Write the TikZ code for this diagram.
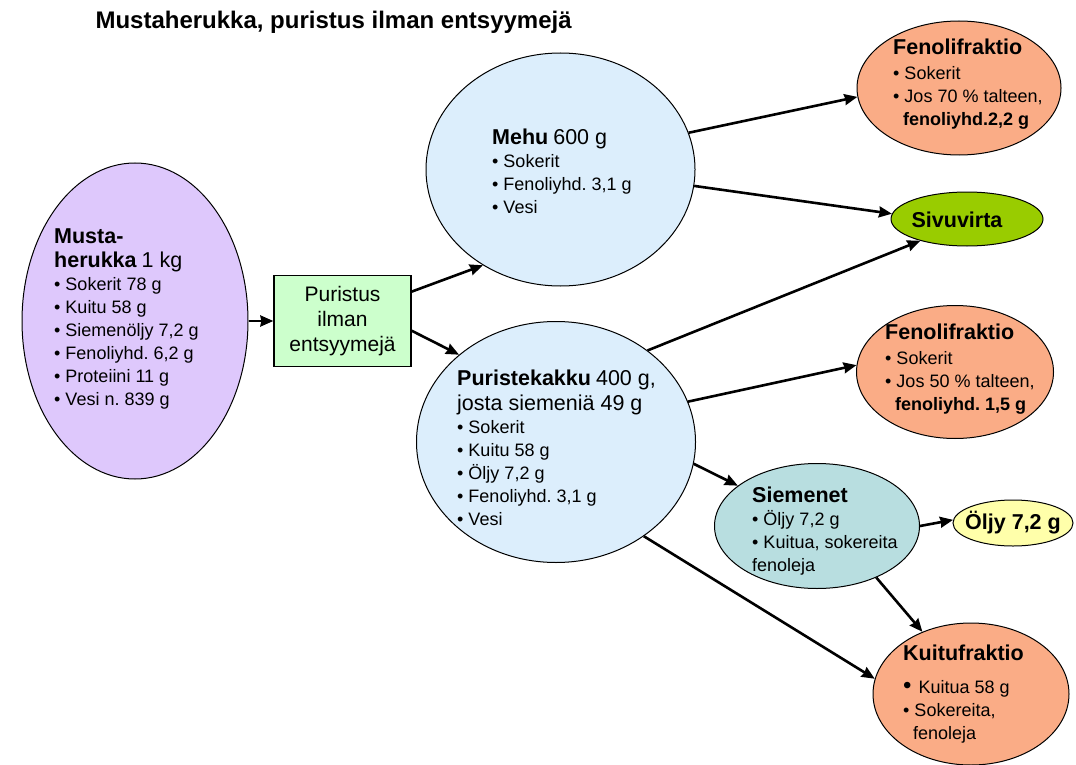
\documentclass[tikz,border=0pt]{standalone}
\usepackage{fontspec}
\setmainfont{Liberation Sans}
\frenchspacing
\usetikzlibrary{arrows.meta, shapes, calc}
\definecolor{lila}{RGB}{222,200,252}
\definecolor{vaaleasin}{RGB}{220,238,252}
\definecolor{vihrea}{RGB}{204,255,204}
\definecolor{lohi}{RGB}{250,172,134}
\definecolor{oliivi}{RGB}{153,204,0}
\definecolor{turkoosi}{RGB}{184,222,224}
\definecolor{keltainen}{RGB}{255,255,170}
\newcommand{\otsikko}[1]{{\fontsize{21.5}{23}\selectfont\bfseries #1}}
\newcommand{\iso}[1]{{\fontsize{21.5}{23}\selectfont #1}}
\tikzset{
    kupla/.style={ % ellipses, text is set separately
        ellipse,
        draw,
        line width=1pt
    },
    teksti/.style={ % left aligned text inside a bubble
        align=left,
        inner sep=0pt,
        anchor=north west,
        font=\fontsize{18}{23}\selectfont
    },
    every edge/.style={ % arrows between the bubbles
        draw,
        -{Stealth[length=13pt,width=11pt,inset=1pt]},
        line width=2.6pt
    }
}
\begin{document}
\begin{tikzpicture}[x=1pt, y=-1pt]
    \useasboundingbox (0,0) rectangle (1076,765);
    \node[anchor=base west, font=\fontsize{24}{28}\selectfont\bfseries] (otsikko) at (92,28.5)
        {Mustaherukka, puristus ilman entsyymejä};

    % bubbles
    \node[kupla, fill=lila, minimum width=226pt, minimum height=316pt]        (musta)  at (135,321) {};
    \node[draw, line width=1.3pt, fill=vihrea, minimum width=137pt, minimum height=91pt,
          align=center, font=\fontsize{21}{25}\selectfont]                   (purist) at (342.5,321)
          {Puristus\\ilman\\entsyymejä};
    \node[kupla, fill=vaaleasin, minimum width=269pt, minimum height=233pt]  (mehu)   at (560.5,169.5) {};
    \node[kupla, fill=vaaleasin, minimum width=279pt, minimum height=241pt]  (kakku)  at (556,442) {};
    \node[kupla, fill=lohi, minimum width=204pt, minimum height=134pt]       (fen1)   at (959,88) {};
    \node[kupla, fill=oliivi, minimum width=152pt, minimum height=54pt]      (sivu)   at (967,219) {};
    \node[kupla, fill=lohi, minimum width=197pt, minimum height=133pt]       (fen2)   at (955,372) {};
    \node[kupla, fill=turkoosi, minimum width=205pt, minimum height=125pt]   (siem)   at (817,526) {};
    \node[kupla, fill=keltainen, minimum width=120pt, minimum height=46pt]   (oljy)   at (1013,523) {};
    \node[kupla, fill=lohi, minimum width=196pt, minimum height=142pt]       (kuitu)  at (971,694) {};

    % texts
    \node[teksti] (mustatxt) at (54,229)
        {\otsikko{Musta-}\\[1pt]
         \otsikko{herukka} \iso{1 kg}\\
         • Sokerit 78 g\\
         • Kuitu 58 g\\
         • Siemenöljy 7,2 g\\
         • Fenoliyhd. 6,2 g\\
         • Proteiini 11 g\\
         • Vesi n. 839 g};
    \node[teksti] (mehutxt) at (492,129)
        {\otsikko{Mehu} \iso{600 g}\\
         • Sokerit\\
         • Fenoliyhd. 3,1 g\\
         • Vesi};
    \node[teksti] (kakkutxt) at (457,370)
        {\otsikko{Puristekakku} \iso{400 g,}\\[2pt]
         \iso{josta siemeniä 49 g}\\
         • Sokerit\\
         • Kuitu 58 g\\
         • Öljy 7,2 g\\
         • Fenoliyhd. 3,1 g\\
         • Vesi};
    \node[teksti] (fen1txt) at (893,39)
        {\otsikko{Fenolifraktio}\\[2pt]
         • Sokerit\\
         • Jos 70 \% talteen,\\
         \hspace*{10pt}\textbf{fenoliyhd.2,2 g}};
    \node[teksti] (fen2txt) at (885,324)
        {\otsikko{Fenolifraktio}\\[2pt]
         • Sokerit\\
         • Jos 50 \% talteen,\\
         \hspace*{10pt}\textbf{fenoliyhd. 1,5 g}};
    \node[teksti] (siemtxt) at (752,487)
        {\otsikko{Siemenet}\\
         • Öljy 7,2 g\\
         • Kuitua, sokereita\\
         fenoleja};
    \node[teksti] (kuitutxt) at (903,645)
        {\otsikko{Kuitufraktio}\\[10pt]
         {\fontsize{24}{23}\selectfont •}\hspace{7pt}Kuitua 58 g\\
         • Sokereita,\\
         \hspace*{10pt}fenoleja};
    \node[anchor=base, font=\fontsize{21.5}{23}\selectfont\bfseries] (sivutxt) at (957,227.5) {Sivuvirta};
    \node[anchor=base, font=\fontsize{21.5}{23}\selectfont\bfseries] (oljytxt) at (1013,529.5) {Öljy 7,2 g};

    % arrows
    \draw   (musta.east)  edge (purist.west)
            (purist.23)   edge (mehu.-129)
            (purist.-8)   edge (kakku.138)
            (mehu.16)     edge (fen1.185)
            (mehu.-7)     edge (sivu.176)
            (kakku.45)    edge (sivu.205)
            (kakku.17)    edge (fen2.176)
            (kakku.-9)    edge (siem.153)
            (kakku.-47)   edge (kuitu.171)
            (siem.0)      edge (oljy.177)
            (siem.-41)    edge (kuitu.128)
    ;
\end{tikzpicture}
\end{document}
